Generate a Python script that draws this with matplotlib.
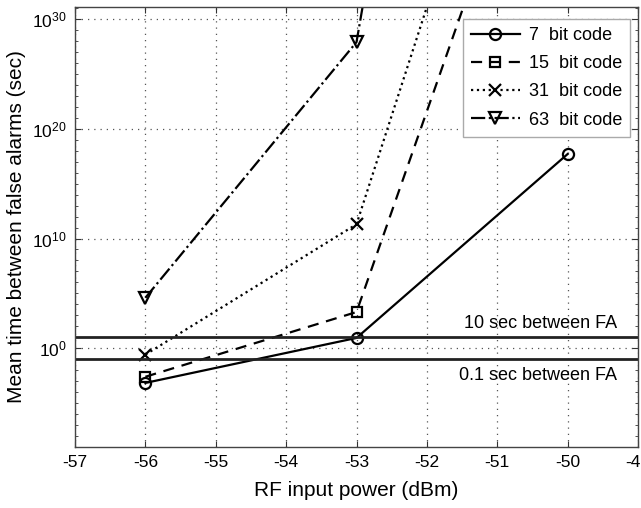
import matplotlib
matplotlib.use("Agg")
import matplotlib.pyplot as plt
import matplotlib.ticker as mticker
import numpy as np

plt.rcParams['font.family'] = ['Liberation Sans', 'DejaVu Sans']
plt.rcParams['mathtext.fontset'] = 'custom'
plt.rcParams['mathtext.rm'] = 'Liberation Sans'

power_dbm = [-56, -53, -50]
labels = ["7  bit code", "15  bit code", "31  bit code", "63  bit code"]
log_mtbfa_7 = [-3.16, 0.94, 17.7]
log_mtbfa_15 = [-2.6, 3.3, 58.2]
log_mtbfa_31 = [-0.58, 11.3, 70.7]
log_mtbfa_63 = [4.6, 27.9, 139.0]
threshold_secs = [10, 0.1]
threshold_labels = ["10 sec between FA", "0.1 sec between FA"]
x_ticks = [-57, -56, -55, -54, -53, -52, -51, -50, -49]
y_major_exp = [0, 10, 20, 30]

fig = plt.figure(figsize=(6.41, 5.08), dpi=100)
ax = fig.add_axes([75/641, 61/508, 563/641, 440/508])

series = [log_mtbfa_7, log_mtbfa_15, log_mtbfa_31, log_mtbfa_63]
styles = [('-', 'o'), ((0, (5, 3.5)), 's'), (':', 'x'), ('-.', 'v')]
msizes = [8, 7, 8, 9]
for vals, (ls, mk), lab, ms in zip(series, styles, labels, msizes):
    ax.plot(power_dbm, [10.0**v for v in vals], color='black', linestyle=ls, linewidth=1.6,
            marker=mk, markersize=ms, markerfacecolor='none', markeredgecolor='black',
            markeredgewidth=1.6, label=lab)

for t in threshold_secs:
    ax.axhline(t, color='#222222', linewidth=2.0)

ax.text(-49.3, 10**1.8, threshold_labels[0], ha='right', va='baseline', fontsize=13)
ax.text(-49.3, 10**-2.9, threshold_labels[1], ha='right', va='baseline', fontsize=13)

ax.set_yscale('log')
ax.set_xlim(-57, -49)
ax.set_ylim(1e-9, 10**31.1)
ax.set_xticks(x_ticks)
ax.set_xticklabels([str(v) for v in x_ticks])
ax.yaxis.set_major_locator(mticker.FixedLocator([10.0**e for e in y_major_exp]))
ax.yaxis.set_major_formatter(mticker.FixedFormatter([r'$\mathregular{10^{%d}}$' % e for e in y_major_exp]))
ax.yaxis.set_minor_locator(mticker.FixedLocator([10.0**e for e in range(-9, 32)]))
ax.yaxis.set_minor_formatter(mticker.NullFormatter())

ax.tick_params(which='both', direction='in', top=True, right=True, labelsize=12.5, color='#333333')
ax.tick_params(which='major', length=4, width=0.8, pad=6)
ax.tick_params(which='minor', length=2.5, width=0.6)
ax.grid(True, which='major', linestyle=(0, (1, 4)), color='#555555', linewidth=0.9)
for sp in ax.spines.values():
    sp.set_color('#444444')
    sp.set_linewidth(1.0)

ax.set_xlabel('RF input power (dBm)', fontsize=15, labelpad=8)
ax.set_ylabel('Mean time between false alarms (sec)', fontsize=15, labelpad=4)

leg = ax.legend(loc='upper right', bbox_to_anchor=(0.986, 0.973), borderaxespad=0,
                fontsize=13, handlelength=2.7, handletextpad=0.5, labelspacing=0.62,
                fancybox=False, framealpha=1, edgecolor='#aaaaaa', borderpad=0.45)
leg.get_frame().set_linewidth(1.0)

fig.savefig('out.png', dpi=100)
